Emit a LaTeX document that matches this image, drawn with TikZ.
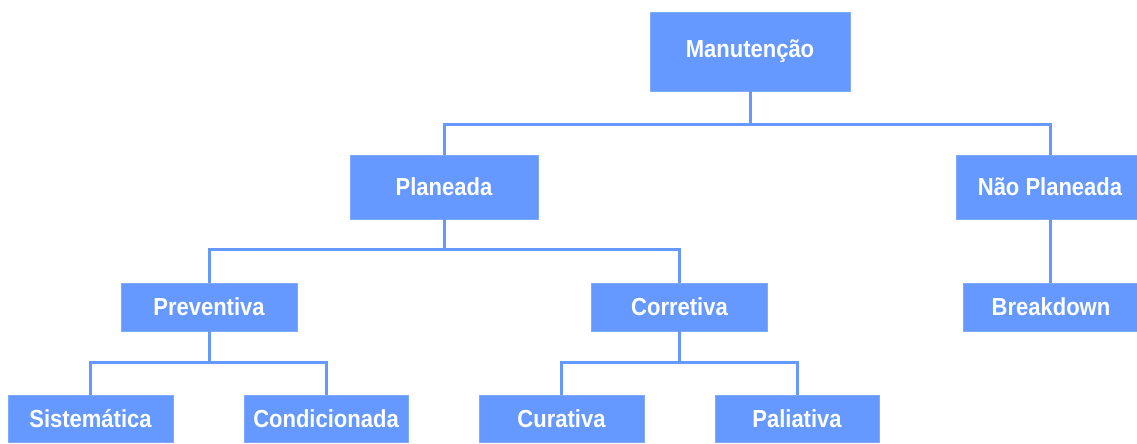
\documentclass[tikz,border=0pt]{standalone}
\usepackage{fontspec}
\setmainfont{Liberation Sans}
\definecolor{boxblue}{HTML}{6699FF}
\definecolor{edgeblue}{HTML}{7FAAFF}
\newcommand{\lbl}[1]{\scalebox{1}[1.12]{#1}}
\begin{document}
\begin{tikzpicture}[x=1pt,y=-1pt,
  box/.style={fill=boxblue,draw=edgeblue,line width=0.8pt,inner sep=0pt,
    text=white,font=\fontsize{22}{26}\selectfont\bfseries,anchor=center},
  link/.style={draw=boxblue,line width=3pt}]
\useasboundingbox (0,0) rectangle (1137,444);
\clip (0,0) rectangle (1137,444);
\node[box,minimum width=200pt,minimum height=79pt] (man) at (750,51.5) {\lbl{Manutenção}};
\node[box,minimum width=188pt,minimum height=64pt] (plan) at (444,187) {\lbl{Planeada}};
\node[box,minimum width=188pt,minimum height=64pt] (nao) at (1050,187) {\lbl{Não Planeada}};
\node[box,minimum width=176pt,minimum height=48pt] (prev) at (209,307) {\lbl{Preventiva}};
\node[box,minimum width=176pt,minimum height=48pt] (corr) at (679.5,307) {\lbl{Corretiva}};
\node[box,minimum width=176pt,minimum height=48pt] (brk) at (1051,307) {\lbl{Breakdown}};
\node[box,minimum width=165pt,minimum height=47pt] (sis) at (90.5,418.5) {\lbl{Sistemática}};
\node[box,minimum width=164pt,minimum height=47pt] (cond) at (326,418.5) {\lbl{Condicionada}};
\node[box,minimum width=165pt,minimum height=47pt] (cur) at (561.5,418.5) {\lbl{Curativa}};
\node[box,minimum width=164pt,minimum height=47pt] (pal) at (797,418.5) {\lbl{Paliativa}};
\draw[link] (man.south) -- (man.south |- 0,124) -| (plan.north);
\draw[link] (man.south |- 0,124) -| (nao.north);
\draw[link] (plan.south) -- (plan.south |- 0,249) -| (prev.north);
\draw[link] (plan.south |- 0,249) -| (corr.north);
\draw[link] (nao.south) -- (nao.south |- brk.north);
\draw[link] (prev.south) -- (prev.south |- 0,362) -| (sis.north);
\draw[link] (prev.south |- 0,362) -| (cond.north);
\draw[link] (corr.south) -- (corr.south |- 0,362) -| (cur.north);
\draw[link] (corr.south |- 0,362) -| (pal.north);
\end{tikzpicture}
\end{document}
